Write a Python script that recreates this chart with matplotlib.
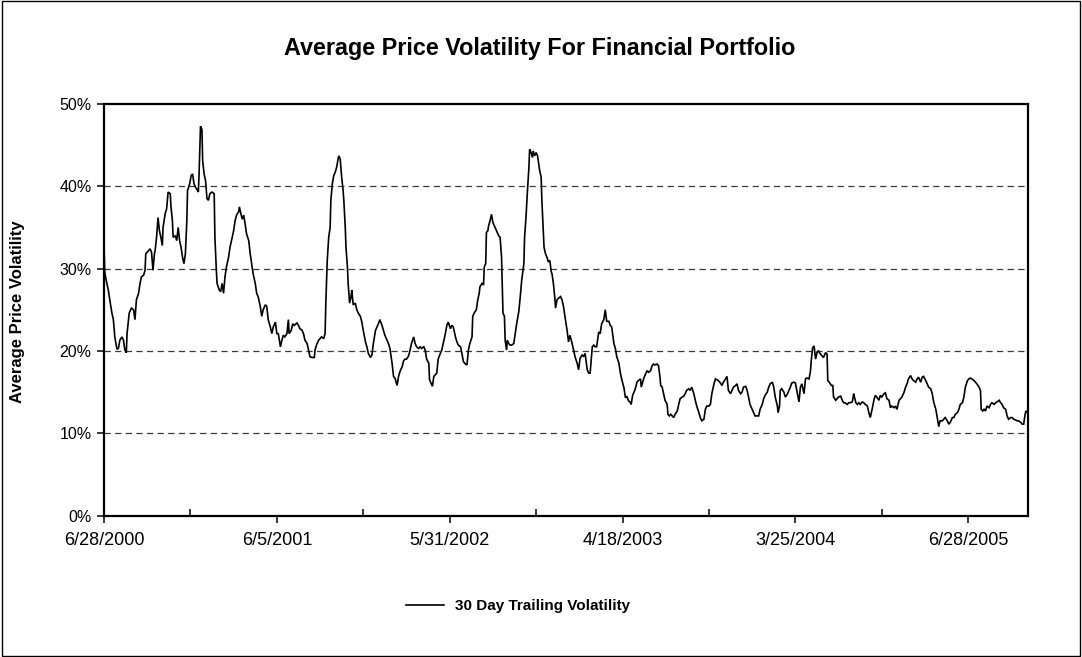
import matplotlib
matplotlib.use('Agg')
import matplotlib.pyplot as plt
import matplotlib.patches as mpatches
from matplotlib.lines import Line2D
from matplotlib.ticker import FuncFormatter

plt.rcParams['font.family'] = ['Liberation Sans', 'DejaVu Sans']

# ---------------- data ----------------
chart_title = "Average Price Volatility For Financial Portfolio"
y_axis_label = "Average Price Volatility"
series_name = "30 Day Trailing Volatility"
date_labels = ["6/28/2000", "6/5/2001", "5/31/2002", "4/18/2003", "3/25/2004", "6/28/2005"]
label_obs = [0, 240, 480, 720, 960, 1200]          # observation index of each date label
minor_tick_obs = [120, 360, 600, 840, 1080]
n_obs = 1283
y_ticks_pct = [0, 10, 20, 30, 40, 50]
grid_pct = [10, 20, 30, 40]

# (observation index, 30-day trailing volatility in %)
readings_2000 = [(0,33.0),(1,29.6),(3,28.6),(6,27.4),(8,26.2),(11,24.6),(13,23.8),(15,21.7),(18,20.2),(20,20.3),
    (22,21.3),(25,21.7),(27,21.3),(29,20.1),(31,19.8),(32,22.1),(35,24.6),(38,25.2),(41,25.0),(43,23.8),
    (45,26.2),(48,27.0),(50,28.2),(52,29.0),(55,29.2),(57,29.8),(58,31.8),(62,32.2),(64,32.4),(66,32.0),
    (68,29.8),(70,31.8),(71,32.2),(73,33.8),(75,36.2),(77,34.6),(79,33.8),(81,32.8),(82,35.0),(85,36.7),
    (87,37.3),(89,39.3),(92,39.1),(93,37.5),(95,35.8),(96,33.8),(99,34.0),(101,33.4),(103,35.0),(105,33.4),
    (107,32.6),(109,31.4),(111,30.6),(113,31.8),(115,35.8),(116,39.5),(119,40.3),(121,41.3),(123,41.5),(125,40.3),
    (127,39.9),(130,39.5),(131,39.3),(132,41.5),(134,47.3),(136,46.9),(137,43.1),(139,41.5),(141,40.7),(143,38.5),
    (145,38.3),(147,39.1),(150,39.3),(153,39.1),(154,33.8),(156,29.8),(157,28.2),(160,27.4),(162,27.2),(164,28.2),
    (166,27.0),(168,29.0),(170,30.2),(173,31.4),(175,32.6),(177,33.4),(180,34.6),(182,35.8),(184,36.5),(187,36.9),
    (188,37.5),(190,36.7),(192,36.0),(194,36.5),(196,35.4),(198,34.2),(201,33.4),(203,31.8),(205,30.6),(207,29.4),
    (210,28.2),(212,27.0),(214,26.6),(217,25.4),(219,24.2),(221,25.0),(224,25.6),(226,25.4),(228,23.8),(231,22.9),
    (233,22.1),(235,22.9),(238,23.5),(240,22.1),(242,22.1),(245,20.5)]

readings_2001 = [(247,21.3),(249,21.9),(251,21.7),(254,22.1),(256,23.8),(257,22.1),(260,22.5),(262,23.3),(264,23.1),(268,23.4),
    (270,23.1),(272,22.7),(275,22.5),(277,22.1),(279,21.3),(282,20.9),(284,20.1),(286,19.3),(289,19.2),(292,19.2),
    (293,20.1),(295,20.7),(298,21.3),(300,21.5),(302,21.7),(305,21.5),(307,22.1),(308,25.8),(310,31.0),(312,33.8),
    (314,35.0),(315,38.3),(317,40.3),(319,41.3),(321,41.7),(323,42.3),(325,43.3),(326,43.7),(328,43.3),(330,41.1),
    (332,39.5),(333,38.3),(335,35.0),(336,32.6),(338,30.2),(339,28.2),(341,25.8),(343,26.6),(344,27.4),(346,25.6),
    (349,25.8),(351,25.0),(353,24.6),(356,24.2),(358,23.5),(360,22.5),(363,21.1),(365,20.5),(367,19.7),(370,19.2),
    (372,19.5),(374,20.9),(377,22.5),(379,22.9),(381,23.3),(383,23.8),(386,23.1),(388,22.5),(390,21.9),(393,21.3),
    (395,20.9),(397,20.3),(400,18.5),(402,16.9),(404,16.7),(407,15.8),(409,16.9),(411,17.5),(414,18.1),(416,18.8),
    (418,19.0),(420,19.0),(423,19.4),(425,20.1),(427,20.9),(430,21.7),(432,20.9),(434,20.5),(437,20.3),(439,20.5),
    (441,20.3),(444,20.5),(446,20.1),(448,19.0),(451,18.5),(452,16.5),(454,16.1),(456,15.7),(458,16.9),(460,17.1),
    (462,17.3),(464,19.0),(467,19.7),(469,20.1),(471,20.9),(474,22.1),(476,23.1),(478,23.5),(481,22.7),(483,23.1),
    (485,22.9),(488,21.7)]

readings_2002 = [(490,21.1),(492,20.7),(495,20.5),(497,19.7),(499,18.7),(502,18.4),(504,18.3),(506,20.1),(508,20.9),(511,21.7),
    (512,24.2),(514,24.6),(517,25.0),(519,26.2),(521,27.0),(522,27.8),(525,28.2),(527,28.0),(528,30.2),(530,30.6),
    (531,34.4),(533,34.6),(534,35.2),(536,35.8),(538,36.6),(540,35.6),(542,35.2),(544,34.8),(546,34.4),(548,34.0),
    (550,33.8),(552,31.4),(553,27.8),(554,24.6),(556,24.2),(557,21.3),(559,20.1),(560,21.3),(562,20.9),(564,20.7),
    (566,20.7),(569,20.9),(571,22.1),(573,23.3),(576,24.8),(578,26.6),(580,28.6),(583,30.6),(584,33.8),(586,36.3),
    (588,39.5),(590,42.3),(591,44.5),(593,44.1),(595,43.5),(596,44.3),(598,43.7),(600,44.1),(602,43.7),(603,43.1),
    (605,41.9),(607,41.1),(608,38.3),(609,36.3),(611,32.6),(613,31.8),(615,31.4),(617,30.8),(619,31.0),(621,29.6),
    (622,29.4),(624,28.2),(626,26.4),(627,25.2),(629,26.2),(631,26.4),(634,26.6),(636,26.2),(638,25.4),(640,24.2),
    (643,22.5),(645,21.1),(647,21.9),(650,20.9),(652,20.1),(654,19.3),(657,18.5),(659,17.7),(661,19.1),(664,19.5),
    (666,19.3),(668,19.7),(671,17.7),(673,17.3),(675,17.3),(678,20.5),(680,20.7),(682,20.5),(684,20.5),(687,22.3),
    (689,22.1),(691,23.3),(694,23.8),(696,25.0),(698,23.6),(701,23.6),(703,23.1),(705,22.9),(708,20.9),(710,20.3),
    (712,19.3),(715,18.5),(717,17.3),(719,16.5),(722,15.5),(724,14.3),(726,14.5)]

readings_2003 = [(728,14.0),(731,13.7),(732,13.5),(734,14.6),(737,15.2),(739,15.8),(740,16.2),(742,16.4),(745,16.6),(746,15.6),
    (748,16.2),(750,16.8),(752,17.2),(754,17.6),(756,17.4),(759,17.6),(761,18.2),(763,18.4),(765,18.3),(768,18.4),
    (770,18.2),(772,16.8),(773,15.8),(775,15.6),(777,14.8),(779,14.0),(782,13.5),(783,12.3),(785,12.1),(787,12.3),
    (789,12.1),(791,11.9),(793,12.3),(796,12.7),(798,13.5),(800,14.2),(803,14.4),(805,14.5),(807,14.8),(809,15.2),
    (812,15.4),(814,15.2),(816,15.6),(819,14.8),(821,14.0),(823,13.3),(826,12.5),(828,11.9),(830,11.5),(833,11.7),
    (835,12.9),(837,13.3),(840,13.3),(842,13.5),(844,14.8),(847,16.0),(849,16.6),(851,16.5),(853,16.4),(856,16.1),
    (858,15.8),(860,16.2),(863,16.6),(865,16.9),(867,15.2),(870,14.8),(872,15.2),(874,15.6),(877,15.8),(879,16.0),
    (881,15.2),(884,14.8),(886,15.0),(888,15.6),(891,15.7),(893,15.2),(895,14.4),(897,13.5),(900,12.9),(902,12.5),
    (904,12.1),(907,12.1),(909,12.1),(911,12.9),(914,13.5),(916,14.2),(918,14.6),(921,15.0),(923,15.6),(925,16.0),
    (928,16.2),(930,15.6),(932,14.4),(935,13.3),(936,12.5),(938,13.3),(939,15.2),(941,15.4),(944,15.0),(946,14.4),
    (948,14.6),(951,15.2),(953,15.6),(955,16.1),(958,16.2),(960,16.1),(962,15.2),(965,13.8),(967,15.6),(969,16.0),
    (972,14.8),(974,16.6),(976,16.7),(979,16.6),(981,17.6),(982,18.8),(984,20.4),(986,20.6),(988,19.0),(990,19.8),
    (992,20.0),(995,19.6),(997,19.4),(999,19.2)]

readings_2004 = [(1002,19.8),(1004,19.6),(1005,16.4),(1007,16.2),(1010,15.8),(1012,15.8),(1013,14.4),(1016,14.0),(1018,14.2),(1020,14.4),
    (1023,14.5),(1025,14.0),(1027,13.7),(1029,13.7),(1032,13.5),(1034,13.7),(1036,13.7),(1039,13.8),(1041,14.8),(1042,14.4),
    (1044,13.7),(1046,13.5),(1048,13.7),(1050,13.5),(1053,13.8),(1055,13.7),(1057,13.5),(1060,13.3),(1062,12.5),(1064,11.9),
    (1067,13.1),(1069,14.0),(1071,14.6),(1073,14.4),(1076,14.0),(1078,14.6),(1080,14.4),(1083,14.8),(1085,14.9),(1087,14.2),
    (1090,14.0),(1092,13.1),(1094,13.3),(1097,13.1),(1099,13.3),(1101,12.9),(1104,14.0),(1106,14.2),(1108,14.4),(1111,15.0),
    (1113,15.6),(1115,16.0),(1117,16.6),(1120,17.0),(1122,16.6),(1124,16.4),(1127,16.2),(1129,16.6),(1131,16.8),(1134,16.2),
    (1136,16.8),(1138,16.9),(1141,16.4),(1143,16.0),(1145,15.6),(1148,15.4),(1150,14.8),(1152,13.8),(1155,12.9),(1157,11.9),
    (1159,10.8),(1161,11.5),(1164,11.5),(1166,11.7),(1168,11.9),(1171,11.5),(1173,11.1),(1175,11.3),(1178,11.9),(1180,11.9),
    (1182,12.3),(1185,12.5),(1187,12.9),(1189,13.5),(1192,13.7),(1194,14.4),(1196,15.6),(1199,16.4),(1201,16.6),(1203,16.7),
    (1205,16.6),(1208,16.4),(1210,16.2),(1212,16.0),(1215,15.6),(1217,15.2),(1218,12.9),(1220,12.7),(1222,12.9),(1224,12.7),
    (1226,13.3),(1229,13.1),(1231,13.5),(1233,13.7),(1236,13.5),(1238,13.7),(1240,13.8),(1243,14.0),(1245,13.7),(1247,13.5),
    (1249,13.1),(1252,12.9),(1254,12.1),(1256,11.7),(1259,11.9),(1261,11.9),(1263,11.7),(1266,11.6),(1268,11.5),(1270,11.5),
    (1273,11.3),(1275,11.1),(1277,11.1),(1279,12.3),(1280,12.7),(1282,12.5)]

readings = readings_2000 + readings_2001 + readings_2002 + readings_2003 + readings_2004
obs = [r[0] for r in readings]
vol = [r[1] for r in readings]

# ---------------- figure ----------------
W, H = 1082, 657
fig = plt.figure(figsize=(W / 100, H / 100), dpi=100)
fig.patch.set_facecolor('white')

ax = fig.add_axes([104 / W, 1 - 515.5 / H, (1028 - 104) / W, (515.5 - 104) / H])

for g in grid_pct:
    ax.axhline(g, color='#3a3a3a', lw=0.9, ls=(0, (5, 3.5)), zorder=1)

ax.plot(obs, vol, color='black', lw=1.2, zorder=3, solid_joinstyle='miter')

ax.set_xlim(0, n_obs)
ax.set_ylim(0, 50)
ax.set_yticks(y_ticks_pct)
ax.yaxis.set_major_formatter(FuncFormatter(lambda v, p: f"{v:.0f}%"))
ax.set_xticks(label_obs)
ax.set_xticklabels(date_labels)
ax.set_xticks(minor_tick_obs, minor=True)

for s in ax.spines.values():
    s.set_linewidth(1.6)
    s.set_color('black')

ax.tick_params(axis='y', direction='out', length=5, width=1.1, labelsize=11.5, pad=4, colors='black')
ax.tick_params(axis='x', which='major', direction='out', length=5, width=1.1, labelsize=13, pad=7)
ax.tick_params(axis='x', which='minor', direction='in', length=5, width=1.1)

fig.text(540 / W, 1 - 48 / H, chart_title, ha='center', va='center',
         fontsize=16.8, fontweight='bold')
fig.text(18 / W, 1 - 312 / H, y_axis_label, ha='center', va='center',
         rotation=90, fontsize=12, fontweight='bold')

handle = Line2D([], [], color='black', lw=1.2)
fig.legend([handle], [series_name], loc='center', bbox_to_anchor=(518 / W, 1 - 606 / H),
           frameon=False, prop={'weight': 'bold', 'size': 11}, handlelength=2.5,
           handletextpad=0.7)

fig.patches.append(mpatches.Rectangle((0.002, 0.002), 0.996, 0.996, transform=fig.transFigure,
                                      fill=False, lw=1.0, edgecolor='black'))

fig.savefig('out.png', dpi=100, facecolor='white')
